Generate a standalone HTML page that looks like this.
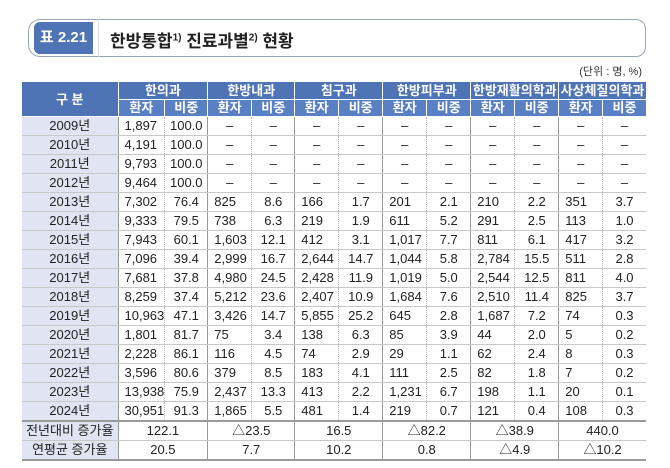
<!DOCTYPE html>
<html><head><meta charset="utf-8"><style>
body{margin:0;width:670px;height:468px;background:#fff;position:relative;font-family:"Liberation Sans","Noto Sans CJK KR",sans-serif;overflow:hidden}
.tbox{position:absolute;left:28px;top:19px;width:616px;height:36px;border:1.5px solid #9aa3b5;border-radius:12px 10px 10px 12px;}
.lab{position:absolute;left:34px;top:22px;width:59px;height:32px;background:#4f74b6;border-radius:6px 0 0 6px;color:#fff;font-weight:bold;font-size:15px;line-height:32px;text-align:center}
.sep{position:absolute;left:98px;top:19px;width:1px;height:38px;background:#ddd}
.tt{position:absolute;left:110px;top:27px;font-size:17px;font-weight:bold;color:#222}
.tt sup{font-size:10px}
.unit{position:absolute;right:28px;top:63px;font-size:11px;color:#333}
table{position:absolute;left:22px;top:82px;border-collapse:collapse;table-layout:fixed;font-size:13px;color:#222}
td,th{padding:0;height:18px;line-height:18px;border-bottom:1px solid #c8c8c8;white-space:nowrap;overflow:hidden}
th{background:#5a80c4;color:#fff;font-weight:bold;border:1px solid #fff;border-top:none;font-size:13px;height:16px;line-height:16px}
tr.h1 th{background:#4f74b6;height:17px;line-height:17px}
td.y{background:#e1e5f3;text-align:center;border-right:1px solid #999}
td.p{padding-left:6px;text-align:left}
td.r{text-align:center;border-left:1px dotted #bbb;border-right:1px solid #999}
td.d{text-align:center}
td.dd{text-align:center;border-left:1px dotted #bbb;border-right:1px solid #999}
tr.f1 td{border-top:2px solid #9a9a9a;text-align:center;height:18px}
tr.f2 td{border-bottom:2px solid #9a9a9a;text-align:center;height:17px}
td.c{border-right:1px solid #999}
td:last-child{border-right:none!important}
</style></head><body>
<div class="tbox"></div><div class="lab">표 2.21</div><div class="sep"></div>
<div class="tt">한방통합<sup>1)</sup> 진료과별<sup>2)</sup> 현황</div>
<div class="unit">(단위 : 명, %)</div>
<table>
<colgroup><col style="width:96px"><col style="width:44px"><col style="width:43px"><col style="width:44px"><col style="width:43px"><col style="width:44px"><col style="width:44px"><col style="width:44px"><col style="width:44px"><col style="width:44px"><col style="width:44px"><col style="width:44px"><col style="width:43px"></colgroup>
<tr class="h1"><th rowspan="2" style="border-left:none">구 분</th><th colspan="2">한의과</th><th colspan="2">한방내과</th><th colspan="2">침구과</th><th colspan="2">한방피부과</th><th colspan="2">한방재활의학과</th><th colspan="2" style="border-right:none">사상체질의학과</th></tr>
<tr><th>환자</th><th>비중</th><th>환자</th><th>비중</th><th>환자</th><th>비중</th><th>환자</th><th>비중</th><th>환자</th><th>비중</th><th>환자</th><th style="border-right:none">비중</th></tr>
<tr><td class="y">2009년</td><td class="p">1,897</td><td class="r">100.0</td><td class="d">–</td><td class="dd">–</td><td class="d">–</td><td class="dd">–</td><td class="d">–</td><td class="dd">–</td><td class="d">–</td><td class="dd">–</td><td class="d">–</td><td class="dd">–</td></tr>
<tr><td class="y">2010년</td><td class="p">4,191</td><td class="r">100.0</td><td class="d">–</td><td class="dd">–</td><td class="d">–</td><td class="dd">–</td><td class="d">–</td><td class="dd">–</td><td class="d">–</td><td class="dd">–</td><td class="d">–</td><td class="dd">–</td></tr>
<tr><td class="y">2011년</td><td class="p">9,793</td><td class="r">100.0</td><td class="d">–</td><td class="dd">–</td><td class="d">–</td><td class="dd">–</td><td class="d">–</td><td class="dd">–</td><td class="d">–</td><td class="dd">–</td><td class="d">–</td><td class="dd">–</td></tr>
<tr><td class="y">2012년</td><td class="p">9,464</td><td class="r">100.0</td><td class="d">–</td><td class="dd">–</td><td class="d">–</td><td class="dd">–</td><td class="d">–</td><td class="dd">–</td><td class="d">–</td><td class="dd">–</td><td class="d">–</td><td class="dd">–</td></tr>
<tr><td class="y">2013년</td><td class="p">7,302</td><td class="r">76.4</td><td class="p">825</td><td class="r">8.6</td><td class="p">166</td><td class="r">1.7</td><td class="p">201</td><td class="r">2.1</td><td class="p">210</td><td class="r">2.2</td><td class="p">351</td><td class="r">3.7</td></tr>
<tr><td class="y">2014년</td><td class="p">9,333</td><td class="r">79.5</td><td class="p">738</td><td class="r">6.3</td><td class="p">219</td><td class="r">1.9</td><td class="p">611</td><td class="r">5.2</td><td class="p">291</td><td class="r">2.5</td><td class="p">113</td><td class="r">1.0</td></tr>
<tr><td class="y">2015년</td><td class="p">7,943</td><td class="r">60.1</td><td class="p">1,603</td><td class="r">12.1</td><td class="p">412</td><td class="r">3.1</td><td class="p">1,017</td><td class="r">7.7</td><td class="p">811</td><td class="r">6.1</td><td class="p">417</td><td class="r">3.2</td></tr>
<tr><td class="y">2016년</td><td class="p">7,096</td><td class="r">39.4</td><td class="p">2,999</td><td class="r">16.7</td><td class="p">2,644</td><td class="r">14.7</td><td class="p">1,044</td><td class="r">5.8</td><td class="p">2,784</td><td class="r">15.5</td><td class="p">511</td><td class="r">2.8</td></tr>
<tr><td class="y">2017년</td><td class="p">7,681</td><td class="r">37.8</td><td class="p">4,980</td><td class="r">24.5</td><td class="p">2,428</td><td class="r">11.9</td><td class="p">1,019</td><td class="r">5.0</td><td class="p">2,544</td><td class="r">12.5</td><td class="p">811</td><td class="r">4.0</td></tr>
<tr><td class="y">2018년</td><td class="p">8,259</td><td class="r">37.4</td><td class="p">5,212</td><td class="r">23.6</td><td class="p">2,407</td><td class="r">10.9</td><td class="p">1,684</td><td class="r">7.6</td><td class="p">2,510</td><td class="r">11.4</td><td class="p">825</td><td class="r">3.7</td></tr>
<tr><td class="y">2019년</td><td class="p">10,963</td><td class="r">47.1</td><td class="p">3,426</td><td class="r">14.7</td><td class="p">5,855</td><td class="r">25.2</td><td class="p">645</td><td class="r">2.8</td><td class="p">1,687</td><td class="r">7.2</td><td class="p">74</td><td class="r">0.3</td></tr>
<tr><td class="y">2020년</td><td class="p">1,801</td><td class="r">81.7</td><td class="p">75</td><td class="r">3.4</td><td class="p">138</td><td class="r">6.3</td><td class="p">85</td><td class="r">3.9</td><td class="p">44</td><td class="r">2.0</td><td class="p">5</td><td class="r">0.2</td></tr>
<tr><td class="y">2021년</td><td class="p">2,228</td><td class="r">86.1</td><td class="p">116</td><td class="r">4.5</td><td class="p">74</td><td class="r">2.9</td><td class="p">29</td><td class="r">1.1</td><td class="p">62</td><td class="r">2.4</td><td class="p">8</td><td class="r">0.3</td></tr>
<tr><td class="y">2022년</td><td class="p">3,596</td><td class="r">80.6</td><td class="p">379</td><td class="r">8.5</td><td class="p">183</td><td class="r">4.1</td><td class="p">111</td><td class="r">2.5</td><td class="p">82</td><td class="r">1.8</td><td class="p">7</td><td class="r">0.2</td></tr>
<tr><td class="y">2023년</td><td class="p">13,938</td><td class="r">75.9</td><td class="p">2,437</td><td class="r">13.3</td><td class="p">413</td><td class="r">2.2</td><td class="p">1,231</td><td class="r">6.7</td><td class="p">198</td><td class="r">1.1</td><td class="p">20</td><td class="r">0.1</td></tr>
<tr><td class="y">2024년</td><td class="p">30,951</td><td class="r">91.3</td><td class="p">1,865</td><td class="r">5.5</td><td class="p">481</td><td class="r">1.4</td><td class="p">219</td><td class="r">0.7</td><td class="p">121</td><td class="r">0.4</td><td class="p">108</td><td class="r">0.3</td></tr>
<tr class="f1"><td class="y">전년대비 증가율</td><td colspan="2" class="c">122.1</td><td colspan="2" class="c">△23.5</td><td colspan="2" class="c">16.5</td><td colspan="2" class="c">△82.2</td><td colspan="2" class="c">△38.9</td><td colspan="2">440.0</td></tr>
<tr class="f2"><td class="y">연평균 증가율</td><td colspan="2" class="c">20.5</td><td colspan="2" class="c">7.7</td><td colspan="2" class="c">10.2</td><td colspan="2" class="c">0.8</td><td colspan="2" class="c">△4.9</td><td colspan="2">△10.2</td></tr>
</table>
</body></html>
